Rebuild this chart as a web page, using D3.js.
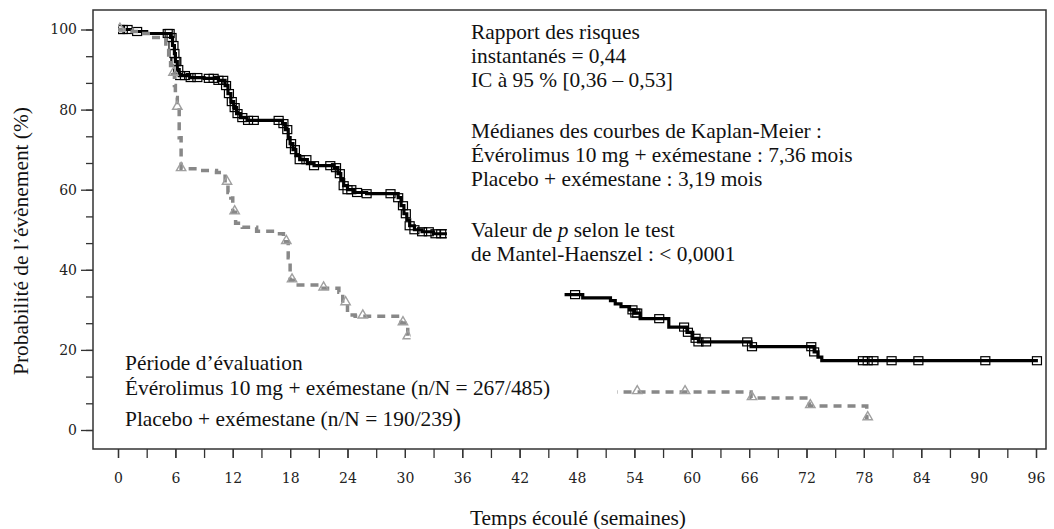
<!DOCTYPE html>
<html>
<head>
<meta charset="utf-8">
<script src="https://cdn.jsdelivr.net/npm/d3@7"></script>
<style>
  html, body { margin: 0; padding: 0; background: #fff; }
  svg { display: block; }
  .serif { font-family: "Liberation Serif", "Times New Roman", serif; fill: #111; }
  .tick text { font-family: "DejaVu Serif", serif; font-size: 14px; fill: #222; }
</style>
</head>
<body>
<svg id="chart" width="1054" height="529"></svg>
<script>
// Kaplan-Meier steps: [week, probability (%)]
const everoSteps = [
  [0, 100], [1.5, 99.5], [3, 99], [5.5, 98], [5.7, 96], [5.9, 94], [6.0, 92], [6.2, 90], [6.4, 88.5],
  [7.5, 88], [9, 87.8], [10.5, 87.3], [11.2, 86], [11.5, 84], [11.8, 82], [12.1, 80.5], [12.4, 79],
  [12.8, 78], [13.5, 77.3], [17.2, 76.5], [17.5, 75], [17.8, 73], [18.0, 71.5], [18.3, 70], [18.6, 68.5],
  [19.0, 67.5], [19.8, 66.5], [20.5, 66], [22.6, 65.5], [23, 64], [23.3, 62.5], [23.6, 61], [24, 60],
  [24.7, 59.3], [26, 59], [29.3, 58], [29.6, 56], [29.9, 54], [30.2, 52.5], [30.5, 51], [31, 50],
  [31.8, 49.5], [33, 49], [40, 33.8], [48.6, 33.0], [51.5, 32.3], [52.0, 31.5], [52.6, 30.8],
  [53.5, 30.0], [54.0, 29.2], [54.6, 27.8], [57.6, 25.7], [59.5, 24.4], [60.1, 22.9], [60.7, 22.0],
  [66.2, 20.8], [72.8, 19.5], [73.2, 18.2], [73.6, 17.3], [96.2, 17.3]
];
const placeboSteps = [
  [0, 100], [1.5, 99.5], [2.5, 99], [3.5, 98], [5.0, 95.5], [5.3, 93], [5.5, 91], [5.7, 89], [5.9, 86],
  [6.0, 83], [6.2, 80.5], [6.4, 73], [6.6, 65.2], [8.5, 64.8], [10.3, 64.3], [11.2, 61.8], [11.5, 59.3],
  [11.8, 57.9], [12.0, 54.4], [12.3, 51.6], [13.0, 50.6], [14.5, 49.6], [16.5, 49.0], [17.3, 47.0],
  [17.8, 43.0], [18.0, 37.4], [18.4, 36.2], [21.0, 35.4], [23.1, 34.4], [23.5, 31.7], [24.0, 28.7],
  [24.8, 28.4], [29.6, 26.7], [30.3, 23.2], [40, 9.5], [66.2, 8.0], [72.3, 6.0], [78.3, 3.0], [78.5, 3.0]
];

// Censored observations (weeks)
const everoCensored = [
  0.2, 0.5, 1.0, 2.0, 5.2, 5.4, 5.6, 5.8, 5.9, 6.0, 6.1, 6.3, 6.5, 7.0, 7.6, 8.3, 9.5, 10.0, 10.5,
  11.0, 11.3, 11.6, 11.9, 12.2, 12.5, 13.0, 13.6, 14.2, 16.8, 17.3, 17.7, 18.1, 18.5, 19.0, 19.7,
  20.5, 22.2, 22.8, 23.2, 23.6, 24.0, 24.4, 25.0, 26.0, 28.5, 29.3, 29.8, 30.1, 30.5, 31.0, 31.8,
  32.5, 33.2, 33.8, 34.2,
  47.8, 53.8, 54.1, 54.3, 56.6, 59.2, 59.6, 60.4, 60.7, 61.5, 65.8, 66.3, 72.5, 72.8,
  77.9, 78.4, 79.0, 80.9, 83.7, 90.7, 96.1
];
const placeboCensored = [
  0.2, 5.8, 6.2, 6.6, 11.4, 12.2, 17.6, 18.2, 21.5, 23.8, 25.6, 29.8, 30.3,
  54.3, 59.3, 66.3, 72.4, 78.4
];

// Week ranges where each curve is shown
const everoShown = [[0, 34.4], [46.7, 97]];
const placeboShown = [[0, 30.6], [52.2, 80]];

const xTicks = d3.range(0, 97, 6);
const xMinorTicks = d3.range(0, 97, 3);
const yTicks = [0, 20, 40, 60, 80, 100];
const yMinorTicks = d3.range(0, 16).map(i => i * 20 / 3).filter(v => v <= 100.01);

const annotationLines = [
  ["Rapport des risques"],
  ["instantanés = 0,44"],
  ["IC à 95 % [0,36 – 0,53]"],
  [],
  ["Médianes des courbes de Kaplan-Meier :"],
  ["Évérolimus 10 mg + exémestane : 7,36 mois"],
  ["Placebo + exémestane : 3,19 mois"],
  [],
  ["Valeur de ", "p", " selon le test"],
  ["de Mantel-Haenszel : < 0,0001"]
];
const legendTitle = "Période d’évaluation";
const legendEvero = "Évérolimus 10 mg + exémestane (n/N = 267/485)";
const legendPlacebo = "Placebo + exémestane (n/N = 190/239";

const svg = d3.select("#chart");
const frame = { left: 93, top: 10, right: 1046, bottom: 449 };
const textSize = 21.4;

const x = d3.scaleLinear().domain([0, 96]).range([118, 1036]);
const y = d3.scaleLinear().domain([0, 100]).range([430, 29.5]);

// frame
svg.append("rect")
  .attr("x", frame.left).attr("y", frame.top)
  .attr("width", frame.right - frame.left).attr("height", frame.bottom - frame.top)
  .attr("fill", "none").attr("stroke", "#333").attr("stroke-width", 1.5);

// axes
const yAxis = svg.append("g").attr("transform", `translate(${frame.left},0)`)
  .call(d3.axisLeft(y).tickValues(yTicks).tickSize(12).tickPadding(4));
yAxis.select(".domain").remove();
yAxis.selectAll("line").attr("stroke", "#333").attr("stroke-width", 1.3);
const yMinor = svg.append("g").attr("transform", `translate(${frame.left},0)`)
  .call(d3.axisLeft(y).tickValues(yMinorTicks).tickSize(7).tickFormat(""));
yMinor.select(".domain").remove();
yMinor.selectAll("line").attr("stroke", "#333").attr("stroke-width", 1.3);

const xAxis = svg.append("g").attr("transform", `translate(0,${frame.bottom})`)
  .call(d3.axisBottom(x).tickValues(xTicks).tickSize(9).tickPadding(15));
xAxis.select(".domain").remove();
xAxis.selectAll("line").attr("stroke", "#333").attr("stroke-width", 1.3);
const xMinor = svg.append("g").attr("transform", `translate(0,${frame.bottom})`)
  .call(d3.axisBottom(x).tickValues(xMinorTicks).tickSize(9).tickFormat(""));
xMinor.select(".domain").remove();
xMinor.selectAll("line").attr("stroke", "#333").attr("stroke-width", 1.3);

// axis titles
svg.append("text").attr("class", "serif")
  .attr("transform", "translate(28,241) rotate(-90)")
  .attr("text-anchor", "middle").attr("font-size", textSize)
  .text("Probabilité de l’évènement (%)");
svg.append("text").attr("class", "serif")
  .attr("x", 578).attr("y", 525).attr("text-anchor", "middle").attr("font-size", textSize)
  .text("Temps écoulé (semaines)");

// clip paths for the shown ranges
const defs = svg.append("defs");
function addClip(id, ranges) {
  const cp = defs.append("clipPath").attr("id", id);
  cp.selectAll("rect").data(ranges).join("rect")
    .attr("x", d => x(d[0])).attr("width", d => x(d[1]) - x(d[0]))
    .attr("y", 0).attr("height", 529);
}
addClip("clip-evero", everoShown);
addClip("clip-placebo", placeboShown);

function valueAt(steps, t) {
  let v = steps[0][1];
  for (const s of steps) { if (s[0] <= t) v = s[1]; else break; }
  return v;
}

const stepLine = d3.line().x(d => x(d[0])).y(d => y(d[1])).curve(d3.curveStepAfter);

// everolimus curve
const gE = svg.append("g").attr("clip-path", "url(#clip-evero)");
gE.append("path").datum(everoSteps)
  .attr("d", stepLine).attr("fill", "none").attr("stroke", "#000").attr("stroke-width", 3.2);
gE.selectAll("rect.cens").data(everoCensored).join("rect").attr("class", "cens")
  .attr("x", d => x(d) - 4.5).attr("y", d => y(valueAt(everoSteps, d)) - 4)
  .attr("width", 9).attr("height", 8)
  .attr("fill", "none").attr("stroke", "#000").attr("stroke-width", 1.2);

// placebo curve
const gP = svg.append("g").attr("clip-path", "url(#clip-placebo)");
gP.append("path").datum(placeboSteps)
  .attr("d", stepLine).attr("fill", "none").attr("stroke", "#888")
  .attr("stroke-width", 3.5).attr("stroke-dasharray", "8,6");
const tri = d3.symbol().type(d3.symbolTriangle).size(38);
gP.selectAll("path.cens").data(placeboCensored).join("path").attr("class", "cens")
  .attr("d", tri)
  .attr("transform", d => `translate(${x(d)},${y(valueAt(placeboSteps, d)) - 1})`)
  .attr("fill", "none").attr("stroke", "#a0a0a0").attr("stroke-width", 1.4);

// statistics annotation
const ann = svg.append("text").attr("class", "serif").attr("font-size", textSize);
let yy = 39;
annotationLines.forEach(parts => {
  parts.forEach((p, i) => {
    const ts = ann.append("tspan").text(p);
    if (i === 0) ts.attr("x", 471).attr("y", yy);
    if (p === "p") ts.attr("font-style", "italic");
  });
  yy += parts.length ? 24 : 27;
});

// period legend
svg.append("text").attr("class", "serif").attr("font-size", textSize)
  .attr("x", 125).attr("y", 370).text(legendTitle);
svg.append("text").attr("class", "serif").attr("font-size", textSize)
  .attr("x", 125).attr("y", 395).text(legendEvero);
const lp = svg.append("text").attr("class", "serif").attr("font-size", textSize)
  .attr("x", 125).attr("y", 426);
lp.append("tspan").text(legendPlacebo);
lp.append("tspan").attr("font-size", 25).text(")");
</script>
</body>
</html>
